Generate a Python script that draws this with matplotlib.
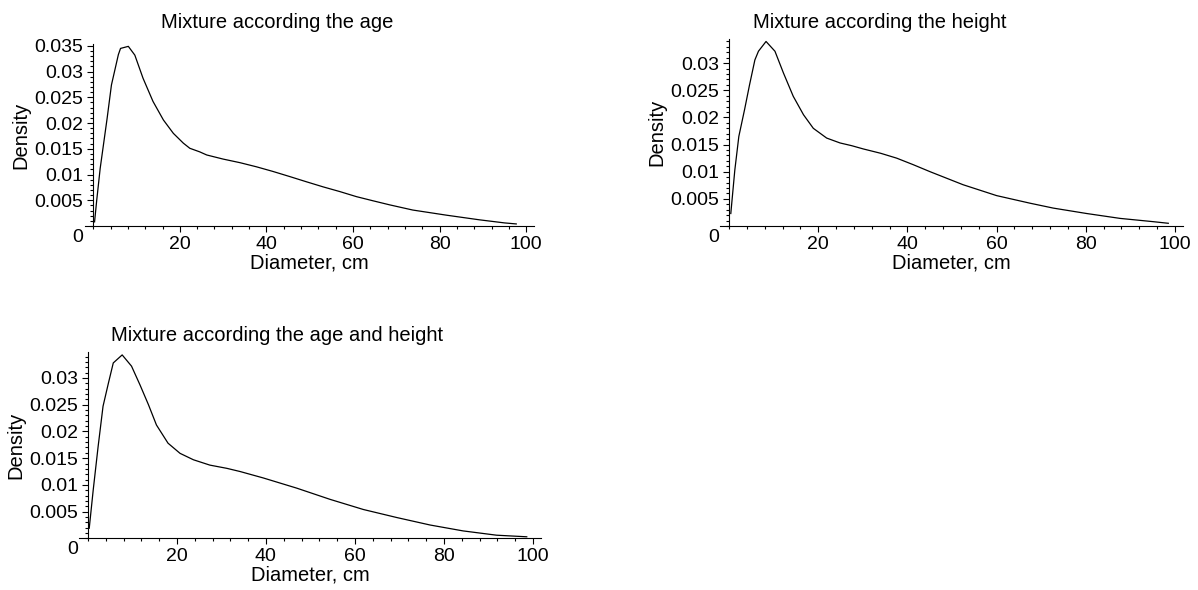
import matplotlib
matplotlib.use("Agg")
import matplotlib.pyplot as plt
from matplotlib.ticker import MultipleLocator

plt.rcParams['font.family'] = ['Liberation Sans', 'DejaVu Sans']

# Mixture density of tree diameters
age_diam = [0.3, 0.8, 1.6, 3.2, 4.2, 5.8, 6.3, 8.1, 9.6, 11.5, 13.8, 16.2, 18.5,
            20.8, 22.3, 24.6, 26.2, 30.0, 33.9, 37.7, 41.5, 45.4, 49.2, 53.1,
            56.9, 60.8, 64.6, 68.5, 73.8, 81.6, 89.2, 95.0, 97.7]
age_dens = [0.0008, 0.0050, 0.0112, 0.0209, 0.0274, 0.0333, 0.0345, 0.0349,
            0.0332, 0.0287, 0.0242, 0.0206, 0.0180, 0.0161, 0.0151, 0.0144,
            0.0138, 0.0130, 0.0123, 0.0115, 0.0106, 0.0096, 0.0086, 0.0076,
            0.0067, 0.0057, 0.0049, 0.0041, 0.0031, 0.0021, 0.0012, 0.0006,
            0.0004]

height_diam = [0.4, 1.3, 2.2, 3.5, 4.6, 5.8, 6.6, 8.3, 10.3, 12.2, 14.4, 16.7,
               18.9, 21.9, 24.9, 27.5, 30.1, 34.0, 37.6, 41.3, 45.1, 52.5,
               60.0, 67.5, 72.7, 80.2, 87.7, 95.1, 98.5]
height_dens = [0.0023, 0.0103, 0.0165, 0.0215, 0.0260, 0.0306, 0.0322, 0.0340,
               0.0322, 0.0282, 0.0239, 0.0205, 0.0180, 0.0162, 0.0153, 0.0148,
               0.0142, 0.0134, 0.0125, 0.0113, 0.0100, 0.0076, 0.0056, 0.0042,
               0.0033, 0.0023, 0.0014, 0.0008, 0.0005]

both_diam = [0.3, 1.2, 2.3, 3.4, 4.6, 5.7, 7.7, 9.8, 11.7, 13.6, 15.4, 18.0,
             20.7, 23.7, 27.4, 31.2, 34.2, 39.4, 46.9, 54.4, 61.9, 69.4, 76.9,
             84.3, 91.8, 98.6]
both_dens = [0.0019, 0.0091, 0.0172, 0.0247, 0.0290, 0.0328, 0.0343, 0.0322,
             0.0287, 0.0250, 0.0212, 0.0178, 0.0159, 0.0147, 0.0137, 0.0131,
             0.0125, 0.0113, 0.0094, 0.0073, 0.0054, 0.0039, 0.0025, 0.0014,
             0.0006, 0.0003]

titles = ["Mixture according the age",
          "Mixture according the height",
          "Mixture according the age and height"]

x_ticks = [20, 40, 60, 80, 100]
y_ticks_full = [0.005, 0.01, 0.015, 0.02, 0.025, 0.03, 0.035]
y_labels_full = ["0.005", "0.01", "0.015", "0.02", "0.025", "0.03", "0.035"]

W, H = 1198, 590
fig = plt.figure(figsize=(W / 100, H / 100), dpi=100)


def px_axes(left, right, top, bottom):
    return fig.add_axes([left / W, 1 - bottom / H, (right - left) / W,
                         (bottom - top) / H])


def density_panel(ax, diam, dens, ymax, n_yticks):
    ax.plot(diam, dens, color='black', linewidth=0.9)
    ax.set_xlim(-2, 101.8)
    ax.set_ylim(0, ymax)
    for side in ('top', 'right'):
        ax.spines[side].set_visible(False)
    ax.spines['left'].set_position(('data', 0))
    for side in ('left', 'bottom'):
        ax.spines[side].set_linewidth(0.8)
    ax.set_xticks(x_ticks)
    ax.set_xticklabels([str(t) for t in x_ticks])
    ax.set_yticks(y_ticks_full[:n_yticks])
    ax.set_yticklabels(y_labels_full[:n_yticks])
    ax.xaxis.set_minor_locator(MultipleLocator(4))
    ax.yaxis.set_minor_locator(MultipleLocator(0.001))
    ax.tick_params(which='major', direction='out', length=4, width=0.8,
                   labelsize=14, pad=3)
    ax.tick_params(which='minor', direction='out', length=2, width=0.8)
    ax.patch.set_visible(False)
    ax.annotate('0', xy=(0, 0), xycoords='data', xytext=(-10, -16),
                textcoords='offset pixels', ha='right', va='baseline',
                fontsize=14)
    ax.annotate('Density', xy=(0, 0.5), xycoords=ax.get_xaxis_transform(),
                xytext=(-72, 0), textcoords='offset pixels', rotation=90,
                ha='center', va='center', fontsize=14.5)
    ax.annotate('Diameter, cm', xy=(0.5, 0), xycoords='axes fraction',
                xytext=(0, -42.5), textcoords='offset pixels', ha='center',
                va='baseline', fontsize=14.5)


ax1 = px_axes(84.6, 534, 44.3, 226)
density_panel(ax1, age_diam, age_dens, 0.0353, 7)

ax2 = px_axes(720.1, 1183, 39.3, 226)
density_panel(ax2, height_diam, height_dens, 0.0344, 6)

ax3 = px_axes(79, 541, 351.7, 538.4)
density_panel(ax3, both_diam, both_dens, 0.0349, 6)

fig.text(277 / W, 1 - 27.5 / H, titles[0], ha='center', va='baseline',
         fontsize=14.5)
fig.text(880 / W, 1 - 27.5 / H, titles[1], ha='center', va='baseline',
         fontsize=14.5)
fig.text(277 / W, 1 - 341 / H, titles[2], ha='center', va='baseline',
         fontsize=14.5)

fig.savefig('out.png', dpi=100, facecolor='white')
